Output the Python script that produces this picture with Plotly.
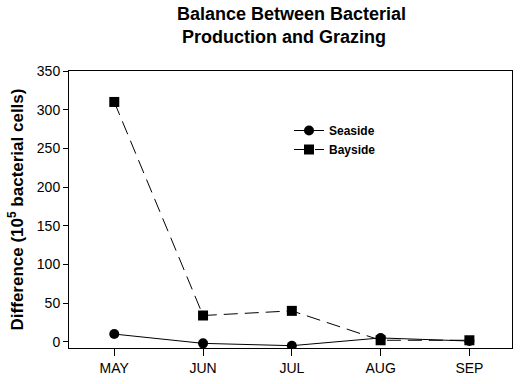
import plotly.graph_objects as go

months = ["MAY", "JUN", "JUL", "AUG", "SEP"]
seaside = [10, -2, -5, 5, 1]
bayside = [310, 34, 40, 2, 2]
yticks = [0, 50, 100, 150, 200, 250, 300, 350]
title_lines = ["Balance Between Bacterial", "Production and Grazing"]

L, R, T, B = 69, 512, 71, 348
PW, PH = R - L, B - T

def px(xp):
    return (xp - L) / PW

def py(yp):
    return (B - yp) / PH

x = list(range(len(months)))
fig = go.Figure()
fig.add_trace(go.Scatter(x=x, y=seaside, name="<b>Seaside</b>", mode="lines+markers",
                         line=dict(color="black", width=1),
                         marker=dict(symbol="circle", size=10, color="black")))
fig.add_trace(go.Scatter(x=x, y=bayside, name="<b>Bayside</b>", mode="lines+markers",
                         line=dict(color="black", width=1, dash="14px,7px"),
                         marker=dict(symbol="square", size=10, color="black")))

fig.update_layout(
    width=520, height=384,
    margin=dict(l=L, r=520 - R, t=T, b=384 - B),
    paper_bgcolor="white", plot_bgcolor="white",
    font=dict(family="Liberation Sans, Arial", color="black", size=14),
    showlegend=True,
    legend=dict(x=px(289), y=py(116), xanchor="left", yanchor="top",
                bgcolor="rgba(0,0,0,0)", font=dict(size=12, family="Liberation Sans, Arial"),
                itemwidth=30, tracegroupgap=0),
    annotations=[
        dict(text="<b>%s</b>" % title_lines[0], x=px(291), y=py(14), xref="paper", yref="paper",
             showarrow=False, font=dict(size=18), xanchor="center", yanchor="middle"),
        dict(text="<b>%s</b>" % title_lines[1], x=px(284), y=py(37), xref="paper", yref="paper",
             showarrow=False, font=dict(size=18), xanchor="center", yanchor="middle"),
    ],
)
fig.update_xaxes(range=[-0.51, 4.48], tickmode="array", tickvals=x, ticktext=months,
                 showline=True, linecolor="black", linewidth=1, mirror=True,
                 ticks="outside", ticklen=7, tickcolor="black", showgrid=False, zeroline=False,
                 tickfont=dict(size=14))
fig.update_yaxes(range=[-8, 350], tickvals=yticks,
                 showline=True, linecolor="black", linewidth=1, mirror=True,
                 ticks="outside", ticklen=5, tickcolor="black", showgrid=False, zeroline=False,
                 tickfont=dict(size=14),
                 title=dict(text="<b>Difference (10<sup>5</sup> bacterial cells)</b>",
                            font=dict(size=17), standoff=8))
fig.write_html("out.html", config={"displayModeBar": False},
               post_script="document.body.style.margin='0';")
